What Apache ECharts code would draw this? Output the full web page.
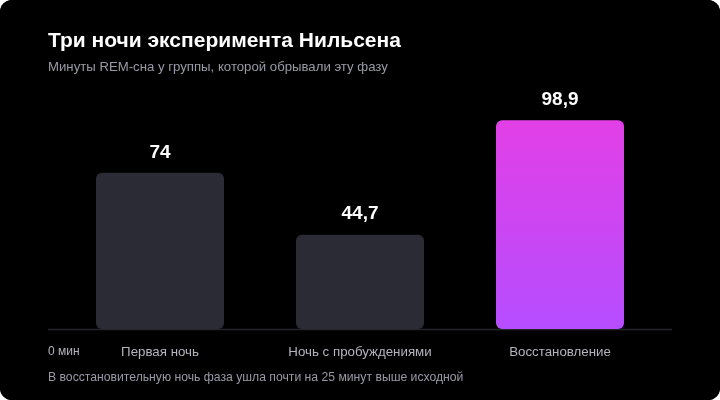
<!DOCTYPE html>
<html>
<head>
<meta charset="utf-8">
<title>Три ночи эксперимента Нильсена</title>
<script src="https://cdn.jsdelivr.net/npm/echarts@6/dist/echarts.min.js"></script>
<style>
  html, body { margin: 0; padding: 0; background: #ffffff; }
  #chart { width: 720px; height: 400px; background: #000000; border-radius: 12px; overflow: hidden; }
</style>
</head>
<body>
<div id="chart"></div>
<script>
    // данные
    var nights = ['Первая ночь', 'Ночь с пробуждениями', 'Восстановление'];
    var remMinutes = [74, 44.7, 98.9];
    var highlightIndex = 2;

    var font = '"Liberation Sans", Arial, sans-serif';

    var chart = echarts.init(document.getElementById('chart'));

    var option = {
        backgroundColor: '#000000',
        animation: false,
        title: {
            text: 'Три ночи эксперимента Нильсена',
            subtext: 'Минуты REM-сна у группы, которой обрывали эту фазу',
            left: 43,
            top: 26,
            itemGap: 9,
            textStyle: { color: '#ffffff', fontSize: 21, fontWeight: 'bold', fontFamily: font },
            subtextStyle: { color: '#9a9aa6', fontSize: 13.2, fontFamily: font }
        },
        grid: { left: 60, right: 60, top: 118, bottom: 71 },
        xAxis: {
            type: 'category',
            data: nights,
            axisLine: { show: false },
            axisTick: { show: false },
            axisLabel: { color: '#b4b4be', fontSize: 13.3, fontFamily: font, margin: 17 }
        },
        yAxis: {
            type: 'value',
            min: 0,
            max: 100,
            show: false,
            splitLine: { show: false }
        },
        graphic: [
            {
                type: 'line',
                shape: { x1: 48, y1: 329.5, x2: 672, y2: 329.5 },
                style: { stroke: '#26262c', lineWidth: 1.5 },
                z: 0
            },
            {
                type: 'text',
                left: 48,
                top: 346,
                style: { text: '0 мин', fill: '#b4b4be', fontSize: 12, fontFamily: font }
            },
            {
                type: 'text',
                left: 48,
                top: 372,
                style: {
                    text: 'В восстановительную ночь фаза ушла почти на 25 минут выше исходной',
                    fill: '#9a9aa6', fontSize: 12.2, fontFamily: font
                }
            }
        ],
        series: [{
            type: 'bar',
            barWidth: 128,
            z: 2,
            data: remMinutes.map(function (v, i) {
                return {
                    value: v,
                    itemStyle: {
                        borderRadius: 6,
                        color: i === highlightIndex
                            ? new echarts.graphic.LinearGradient(0, 0, 0, 1, [
                                { offset: 0, color: '#e23fe6' },
                                { offset: 1, color: '#b54dff' }
                            ])
                            : '#2b2b36'
                    }
                };
            }),
            label: {
                show: true,
                position: 'top',
                distance: 11,
                color: '#ffffff',
                fontSize: 19,
                fontWeight: 'bold',
                fontFamily: font,
                formatter: function (p) {
                    return String(p.value).replace('.', ',');
                }
            }
        }]
    };

    chart.setOption(option);
</script>
</body>
</html>
